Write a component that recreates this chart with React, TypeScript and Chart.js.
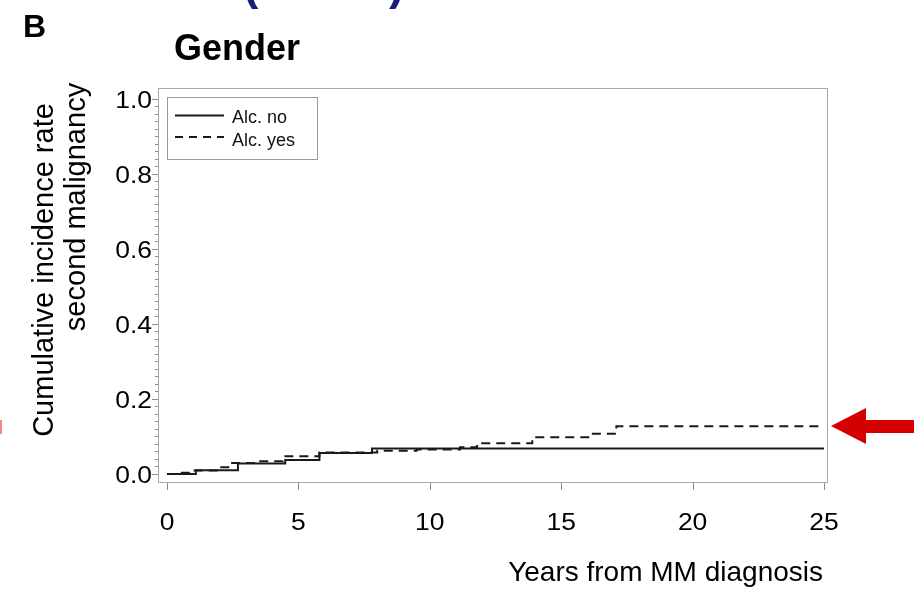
import React, { useEffect, useRef } from "react";
import { Chart, registerables } from "chart.js";

Chart.register(...registerables);

// ---- data ----
const seriesNames = ["Alc. no", "Alc. yes"];
const noTimes = [0, 1.1, 2.7, 4.5, 5.8, 7.8, 25];
const noValues = [0, 0.01, 0.028, 0.037, 0.056, 0.068, 0.068];
const yesTimes = [0, 0.5, 0.95, 2.0, 2.4, 3.5, 4.4, 5.8, 8.0, 9.5, 11.15, 11.8, 13.9, 16.1, 17.1, 25];
const yesValues = [0, 0.003, 0.009, 0.018, 0.029, 0.034, 0.047, 0.057, 0.062, 0.065, 0.071, 0.082, 0.098, 0.107, 0.127, 0.127];

const xTickValues = [0, 5, 10, 15, 20, 25];
const xTickLabels = ["0", "5", "10", "15", "20", "25"];
const yTickValues = [0, 0.2, 0.4, 0.6, 0.8, 1.0];
const yTickLabels = ["0.0", "0.2", "0.4", "0.6", "0.8", "1.0"];
const yMinorCount = 50; // minor ticks every 0.02

const panelLabel = "B";
const chartTitle = "Gender";
const yTitleLines = ["Cumulative incidence rate", "second malignancy"];
const xTitle = "Years from MM diagnosis";

const FONT = '"Liberation Sans", Arial, Helvetica, sans-serif';

function stretchedText(ctx: CanvasRenderingContext2D, text: string, x: number, y: number, sx: number) {
  ctx.save();
  ctx.translate(x, y);
  ctx.scale(sx, 1);
  ctx.fillText(text, 0, 0);
  ctx.restore();
}

const decorPlugin = {
  id: "decor",
  afterDraw(chart: any) {
    const { ctx, chartArea: a, scales } = chart;
    const x = scales.x;
    const y = scales.y;
    ctx.save();

    // plot frame
    ctx.strokeStyle = "#a8a8a8";
    ctx.lineWidth = 1;
    ctx.setLineDash([]);
    ctx.strokeRect(a.left + 0.5, a.top + 0.5, a.right - a.left - 1, a.bottom - a.top - 1);

    // y ticks (minor + major)
    ctx.strokeStyle = "#8c8c8c";
    for (let i = 0; i <= yMinorCount; i++) {
      const v = i / yMinorCount;
      const py = Math.round(y.getPixelForValue(v)) + 0.5;
      const major = i % 10 === 0;
      ctx.beginPath();
      ctx.moveTo(a.left - (major ? 6 : 3), py);
      ctx.lineTo(a.left, py);
      ctx.stroke();
    }
    // x ticks
    xTickValues.forEach((v) => {
      const px = Math.round(x.getPixelForValue(v)) + 0.5;
      ctx.beginPath();
      ctx.moveTo(px, a.bottom);
      ctx.lineTo(px, a.bottom + 7);
      ctx.stroke();
    });

    // tick labels (slightly wide, as in the source)
    ctx.fillStyle = "#000";
    ctx.font = `23px ${FONT}`;
    ctx.textAlign = "right";
    ctx.textBaseline = "middle";
    yTickValues.forEach((v, i) => {
      stretchedText(ctx, yTickLabels[i], a.left - 6, y.getPixelForValue(v) + 2.5, 1.15);
    });
    ctx.textAlign = "center";
    xTickValues.forEach((v, i) => {
      stretchedText(ctx, xTickLabels[i], x.getPixelForValue(v), 524, 1.15);
    });

    // axis titles
    ctx.font = `28px ${FONT}`;
    ctx.textAlign = "right";
    ctx.fillText(xTitle, 823, 573);

    ctx.save();
    ctx.font = `29px ${FONT}`;
    ctx.textAlign = "center";
    ctx.translate(45, 270);
    ctx.rotate(-Math.PI / 2);
    ctx.fillText(yTitleLines[0], 0, 0);
    ctx.restore();
    ctx.save();
    ctx.font = `29px ${FONT}`;
    ctx.textAlign = "center";
    ctx.translate(77, 207);
    ctx.rotate(-Math.PI / 2);
    ctx.fillText(yTitleLines[1], 0, 0);
    ctx.restore();

    // legend
    ctx.strokeStyle = "#9a9a9a";
    ctx.lineWidth = 1;
    ctx.strokeRect(167.5, 97.5, 150, 62);
    ctx.strokeStyle = "#1a1a1a";
    ctx.lineWidth = 2;
    ctx.beginPath();
    ctx.moveTo(175, 115.5);
    ctx.lineTo(224, 115.5);
    ctx.stroke();
    ctx.setLineDash([8, 6]);
    ctx.beginPath();
    ctx.moveTo(175, 137);
    ctx.lineTo(224, 137);
    ctx.stroke();
    ctx.setLineDash([]);
    ctx.font = `18px ${FONT}`;
    ctx.textAlign = "left";
    ctx.fillStyle = "#111";
    ctx.fillText(seriesNames[0], 232, 118);
    ctx.fillText(seriesNames[1], 232, 141);

    // panel label and title
    ctx.fillStyle = "#000";
    ctx.textBaseline = "alphabetic";
    ctx.font = `bold 32px ${FONT}`;
    ctx.fillText(panelLabel, 23, 37);
    ctx.font = `bold 36px ${FONT}`;
    ctx.fillText(chartTitle, 174, 60);

    // cut-off navy parentheses at the very top
    ctx.fillStyle = "#1c1c7e";
    ctx.font = `bold 46px ${FONT}`;
    ctx.fillText("(", 243, -1);
    ctx.fillText(")", 389, -1);

    // red arrow at right
    ctx.fillStyle = "#d40000";
    ctx.beginPath();
    ctx.moveTo(831, 426);
    ctx.lineTo(866, 408);
    ctx.lineTo(866, 420);
    ctx.lineTo(914, 420);
    ctx.lineTo(914, 433);
    ctx.lineTo(866, 433);
    ctx.lineTo(866, 444);
    ctx.closePath();
    ctx.fill();

    // left red remnant
    ctx.fillStyle = "#ee8a8a";
    ctx.fillRect(0, 420, 2, 14);

    ctx.restore();
  },
};

export default function App() {
  const canvasRef = useRef<HTMLCanvasElement | null>(null);

  useEffect(() => {
    const canvas = canvasRef.current;
    if (!canvas) return;
    const chart = new Chart(canvas, {
      type: "line",
      data: {
        datasets: [
          {
            label: seriesNames[0],
            data: noTimes.map((t, i) => ({ x: t, y: noValues[i] })),
            stepped: true,
            borderColor: "#1a1a1a",
            borderWidth: 2,
            pointRadius: 0,
            fill: false,
          },
          {
            label: seriesNames[1],
            data: yesTimes.map((t, i) => ({ x: t, y: yesValues[i] })),
            stepped: true,
            borderColor: "#1a1a1a",
            borderWidth: 2,
            borderDash: [9, 6],
            pointRadius: 0,
            fill: false,
          },
        ],
      },
      options: {
        responsive: false,
        animation: false,
        layout: { padding: { left: 158, top: 88, right: 86, bottom: 115 } },
        scales: {
          x: { type: "linear", display: false, min: -0.342, max: 25.152 },
          y: { type: "linear", display: false, min: -0.024, max: 1.0293 },
        },
        plugins: {
          legend: { display: false },
          tooltip: { enabled: false },
          title: { display: false },
        },
      },
      plugins: [decorPlugin],
    });
    return () => chart.destroy();
  }, []);

  return (
    <div style={{ position: "fixed", left: 0, top: 0, width: 914, height: 598, background: "#fff" }}>
      <canvas ref={canvasRef} width={914} height={598} style={{ display: "block" }} />
    </div>
  );
}
